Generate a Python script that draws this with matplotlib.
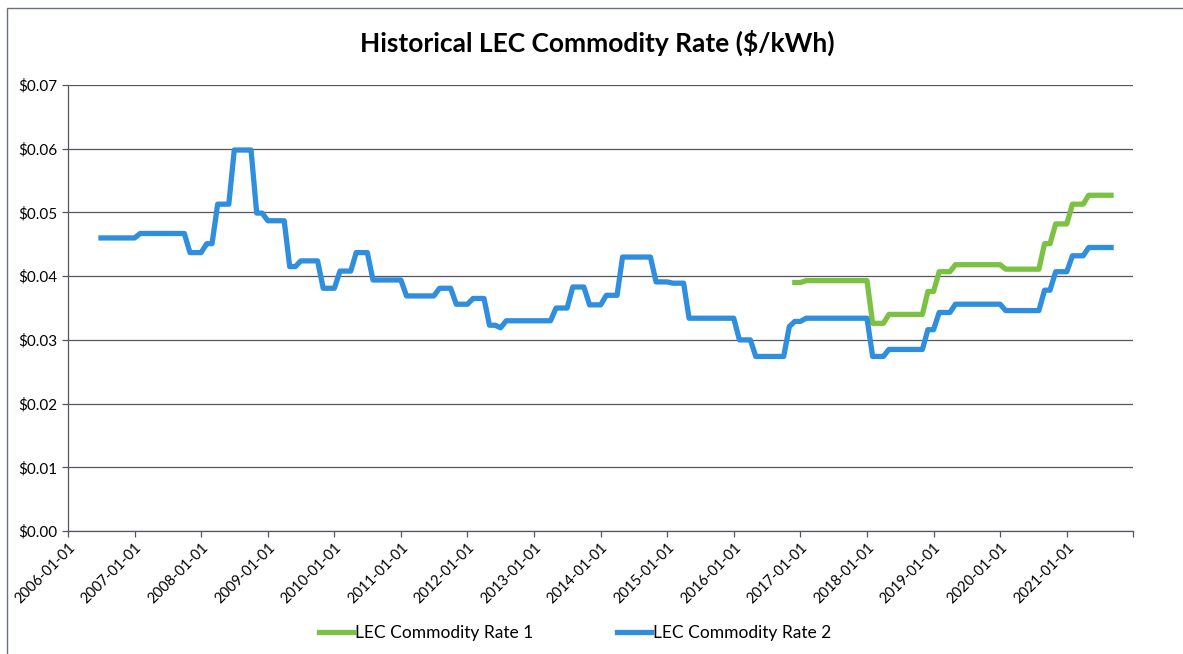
"""Historical LEC commodity rate, two rate series on a monthly date axis."""

import numpy as np
import pandas as pd
import matplotlib
matplotlib.use('Agg')
import matplotlib.pyplot as plt
from matplotlib.patches import Rectangle

plt.rcParams['font.family'] = ['Lato', 'DejaVu Sans']

# months where the rate changed, and the rate from that month on ($/kWh)
RATE2_CHANGES = ['2006-07', '2007-02', '2007-11', '2008-02', '2008-04', '2008-07',
                 '2008-11', '2009-01', '2009-05', '2009-07', '2009-11', '2010-02',
                 '2010-05', '2010-08', '2011-02', '2011-08', '2011-11', '2012-02',
                 '2012-05', '2012-07', '2012-08', '2013-05', '2013-08', '2013-11',
                 '2014-02', '2014-05', '2014-11', '2015-02', '2015-05', '2016-02',
                 '2016-05', '2016-11', '2016-12', '2017-02', '2018-02', '2018-05',
                 '2018-12', '2019-02', '2019-05', '2020-02', '2020-09', '2020-11',
                 '2021-02', '2021-05']
RATE2_VALUES = [0.0460, 0.0467, 0.0437, 0.0451, 0.0513, 0.0598,
                0.0499, 0.0487, 0.0415, 0.0424, 0.0381, 0.0408,
                0.0437, 0.0394, 0.0369, 0.0381, 0.0356, 0.0365,
                0.0323, 0.0319, 0.0330, 0.0350, 0.0383, 0.0355,
                0.0370, 0.0430, 0.0391, 0.0389, 0.0334, 0.0300,
                0.0274, 0.0321, 0.0329, 0.0334, 0.0274, 0.0285,
                0.0316, 0.0343, 0.0356, 0.0346, 0.0378, 0.0407,
                0.0432, 0.0445]

RATE1_CHANGES = ['2016-12', '2017-02', '2018-02', '2018-05', '2018-12', '2019-02',
                 '2019-05', '2020-02', '2020-09', '2020-11', '2021-02', '2021-05']
RATE1_VALUES = [0.0390, 0.0393, 0.0326, 0.0340, 0.0376, 0.0407,
                0.0418, 0.0411, 0.0451, 0.0482, 0.0513, 0.0527]

LAST_MONTH = '2021-09'
YEARS = list(range(2006, 2023))
Y_TICKS = [0.00, 0.01, 0.02, 0.03, 0.04, 0.05, 0.06, 0.07]

BLUE = '#2f8fde'
GREEN = '#7cc242'


def monthly(changes, values):
    s = pd.Series(values, index=pd.to_datetime(changes))
    idx = pd.date_range(changes[0], LAST_MONTH, freq='MS')
    return s.reindex(idx).ffill()


rate1 = monthly(RATE1_CHANGES, RATE1_VALUES)
rate2 = monthly(RATE2_CHANGES, RATE2_VALUES)

fig = plt.figure(figsize=(11.83, 6.54), dpi=100)
ax = fig.add_axes([0.0575, 0.188, 0.9005, 0.682])

ax.plot(rate1.index, rate1.values, color=GREEN, lw=3.8, label='LEC Commodity Rate 1',
        solid_joinstyle='round', zorder=3)
ax.plot(rate2.index, rate2.values, color=BLUE, lw=3.8, label='LEC Commodity Rate 2',
        solid_joinstyle='round', zorder=3)

ax.set_ylim(0, 0.07)
ax.set_yticks(Y_TICKS)
ax.set_yticklabels([f'${v:.2f}' for v in Y_TICKS], fontsize=11)
ax.yaxis.grid(True, color='#555566', lw=0.9)
ax.set_axisbelow(True)

xt = [pd.Timestamp(f'{y}-01-01') for y in YEARS]
ax.set_xlim(xt[0], xt[-1])
ax.set_xticks(xt)
ax.set_xticklabels([f'{y}-01-01' for y in YEARS[:-1]] + [''], rotation=45,
                   ha='right', rotation_mode='anchor', fontsize=10.5)
ax.tick_params(axis='both', length=4, width=0.9, color='#555566')
ax.tick_params(axis='x', pad=3)

for side in ['top', 'right']:
    ax.spines[side].set_visible(False)
for side in ['left', 'bottom']:
    ax.spines[side].set_color('#555566')
    ax.spines[side].set_linewidth(0.9)

fig.text(0.505, 0.935, 'Historical LEC Commodity Rate ($/kWh)', ha='center',
         va='center', fontsize=19, fontweight='bold')

fig.legend(loc='center', bbox_to_anchor=(0.486, 0.032), ncol=2, frameon=False,
           fontsize=12.5, handlelength=2.0, handletextpad=0.1, columnspacing=4.8)

fig.patches.append(Rectangle((7 / 1183, -0.05), 1.1, 1 - 8 / 654 + 0.05,
                             transform=fig.transFigure, fill=False,
                             edgecolor='#6a7080', lw=1.0))

fig.savefig('out.png', dpi=100)
